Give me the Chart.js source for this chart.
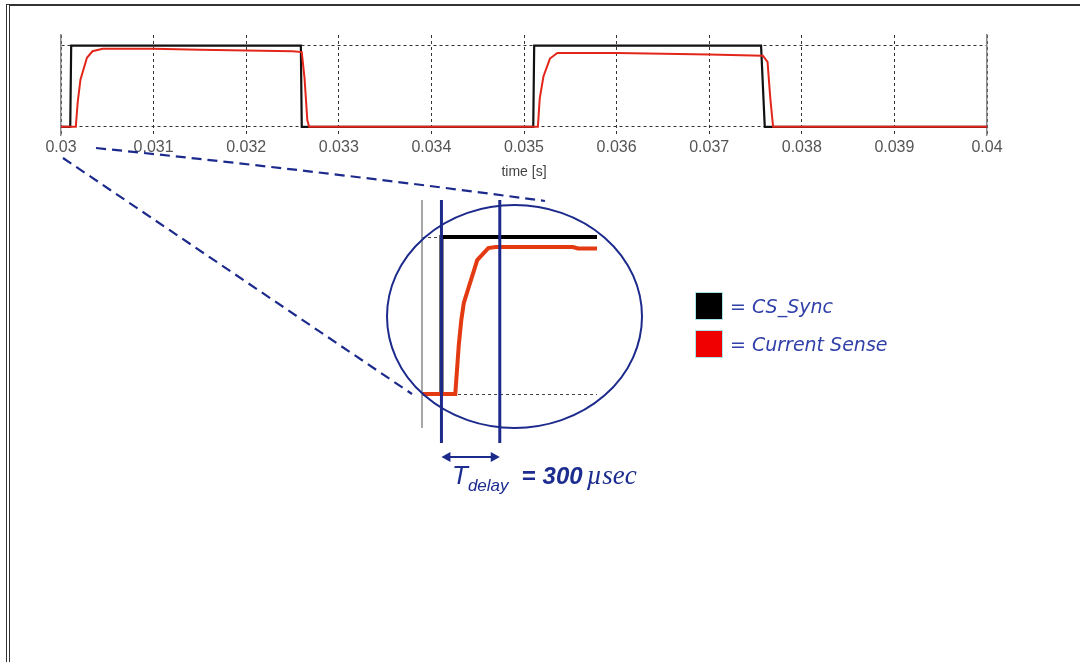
<!DOCTYPE html>
<html>
<head>
<meta charset="utf-8">
<script src="https://cdn.jsdelivr.net/npm/chart.js@4.4.0/dist/chart.umd.min.js"></script>
<style>
html, body { margin: 0; padding: 0; background: #fff; overflow: hidden; }
#wrap { position: relative; width: 1080px; height: 662px; overflow: hidden; }
#frame { position: absolute; left: 6px; top: 4px; width: 1100px; height: 700px; border-left: 4px double #333; border-top: 2px solid #333; }
canvas { position: absolute; left: 0; top: 0; }
.sq { position: absolute; left: 695px; width: 26px; height: 26px; border: 1px solid #a8e4ea; }
.legtxt { position: absolute; left: 730px; font: italic 19px "DejaVu Sans", sans-serif; line-height: 22px; color: #3040a8; white-space: nowrap; }
#tdelay { position: absolute; left: 452px; top: 460px; color: #1c2d8f; white-space: nowrap; font-family: "Liberation Sans", Arial, sans-serif; font-style: italic; line-height: 30px; }
#tdelay .t { font-size: 26px; }
#tdelay .sub { font-size: 17px; vertical-align: -7px; }
#tdelay .eq { font-size: 24px; font-weight: bold; margin-left: 13px; }
#tdelay .num { font-size: 24px; font-weight: bold; margin-left: 7px; }
#tdelay .unit { font-family: "Liberation Serif", serif; font-size: 27px; margin-left: 4px; }
</style>
</head>
<body>
<div id="wrap">
  <div id="frame"></div>
  <canvas id="main" width="1080" height="662"></canvas>
  <canvas id="zoom" width="1080" height="662"></canvas>
  <div class="sq" style="top:292px;background:#000"></div>
  <div class="sq" style="top:330px;background:#f00000"></div>
  <div class="legtxt" style="top:295px">= CS_Sync</div>
  <div class="legtxt" style="top:333px">= Current Sense</div>
  <div id="tdelay"><span class="t">T</span><span class="sub">delay</span><span class="eq">=</span><span class="num">300</span><span class="unit">µsec</span></div>
</div>
<script>
// time axis [s]
var timeTicks = [0.030, 0.031, 0.032, 0.033, 0.034, 0.035, 0.036, 0.037, 0.038, 0.039, 0.040];
var timeTickLabels = ["0.03", "0.031", "0.032", "0.033", "0.034", "0.035", "0.036", "0.037", "0.038", "0.039", "0.04"];
var levelTicks = [0, 1];

// CS_Sync (black)
var syncTime  = [0.0300, 0.03010, 0.03011, 0.03259, 0.03260, 0.03510, 0.03511, 0.03756, 0.03760, 0.0400];
var syncValue = [0, 0, 1, 1, 0, 0, 1, 1, 0, 0];

// Current Sense (red)
var senseTime  = [0.0300, 0.03016, 0.03018, 0.03021, 0.03028, 0.03034, 0.03045, 0.0310, 0.0315, 0.0320, 0.0325, 0.03260,
                  0.03263, 0.03266, 0.03268, 0.03515, 0.03517, 0.03521, 0.03528, 0.03536, 0.0360, 0.0365, 0.0370, 0.03758,
                  0.03763, 0.03766, 0.03769, 0.0400];
var senseValue = [0, 0, 0.3, 0.58, 0.85, 0.93, 0.96, 0.96, 0.95, 0.94, 0.93, 0.92,
                  0.6, 0.08, 0, 0, 0.35, 0.62, 0.84, 0.91, 0.91, 0.9, 0.89, 0.875,
                  0.8, 0.35, 0, 0];

// zoomed view of the first rising edge
var zoomStart = 0.0300;
var zoomEnd = 0.0309;
var zoomSyncTime  = [0.0300, 0.0301, 0.0301, 0.0309];
var zoomSyncValue = [0, 0, 1, 1];
var zoomSenseTime  = [0.030000, 0.030171, 0.030181, 0.030189, 0.030202, 0.030215, 0.030284, 0.030341, 0.030378, 0.030776, 0.030802, 0.030905];
var zoomSenseValue = [0, 0, 0.17, 0.31, 0.47, 0.58, 0.853, 0.93, 0.936, 0.936, 0.927, 0.927];
var delayMarks = [0.0301, 0.0304];

var navy = '#1c2a8c';

function toXY(t, v) {
    return t.map(function (x, i) { return {x: x, y: v[i]}; });
}

Chart.defaults.font.family = '"Liberation Sans Narrow", "Liberation Sans", sans-serif';

var mainChart = new Chart(document.getElementById('main'), {
    type: 'line',
    data: {
        datasets: [
            {label: 'Current Sense', data: toXY(senseTime, senseValue), borderColor: '#e3261b', borderWidth: 2, pointRadius: 0},
            {label: 'CS_Sync', data: toXY(syncTime, syncValue), borderColor: '#111', borderWidth: 2.2, pointRadius: 0}
        ]
    },
    options: {
        responsive: false,
        animation: false,
        layout: {padding: {left: 61, right: 93, top: 35, bottom: 481}},
        plugins: {legend: {display: false}, tooltip: {enabled: false}},
        scales: {
            x: {
                type: 'linear', min: 0.03, max: 0.04,
                afterBuildTicks: function (s) { s.ticks = timeTicks.map(function (v) { return {value: v}; }); },
                ticks: {
                    callback: function (v, i) { return timeTickLabels[i]; },
                    color: '#555', font: {size: 16}, padding: 3, maxRotation: 0, autoSkip: false
                },
                grid: {color: '#333', lineWidth: 1, drawTicks: false},
                border: {display: false, dash: [3, 3]},
                title: {display: true, text: 'time [s]', color: '#444', font: {size: 14}, padding: {top: 4, bottom: 0}}
            },
            y: {
                min: -0.1, max: 1.13,
                afterBuildTicks: function (s) { s.ticks = levelTicks.map(function (v) { return {value: v}; }); },
                ticks: {display: false},
                grid: {color: '#333', lineWidth: 1, drawTicks: false},
                border: {display: true, color: '#8a8a8a', width: 1.5, dash: [3, 3]}
            },
            yRight: {
                position: 'right', min: -0.1, max: 1.13,
                ticks: {display: false},
                grid: {display: false, drawTicks: false},
                border: {display: true, color: '#8a8a8a', width: 1.5}
            }
        }
    }
});

var insetDecor = {
    id: 'insetDecor',
    afterDraw: function (chart) {
        var ctx = chart.ctx, a = chart.chartArea, x = chart.scales.x;
        ctx.save();
        // zoom window edge
        var x0 = x.getPixelForValue(zoomStart);
        ctx.strokeStyle = '#8a8a8a';
        ctx.lineWidth = 1.5;
        ctx.beginPath(); ctx.moveTo(x0, a.top); ctx.lineTo(x0, a.bottom - 15); ctx.stroke();
        // delay markers
        ctx.strokeStyle = navy;
        ctx.lineWidth = 3;
        delayMarks.forEach(function (t) {
            var px = x.getPixelForValue(t);
            ctx.beginPath(); ctx.moveTo(px, a.top); ctx.lineTo(px, a.bottom); ctx.stroke();
        });
        // magnifier circle
        ctx.lineWidth = 2;
        ctx.beginPath();
        ctx.ellipse(514.5, 316.5, 127.5, 111.5, 0, 0, Math.PI * 2);
        ctx.stroke();
        // double arrow
        var x1 = x.getPixelForValue(delayMarks[0]), x2 = x.getPixelForValue(delayMarks[1]), ay = a.bottom + 14;
        ctx.lineWidth = 2;
        ctx.beginPath(); ctx.moveTo(x1 + 2, ay); ctx.lineTo(x2 - 2, ay); ctx.stroke();
        ctx.fillStyle = navy;
        ctx.beginPath(); ctx.moveTo(x1, ay); ctx.lineTo(x1 + 9, ay - 5); ctx.lineTo(x1 + 9, ay + 5); ctx.closePath(); ctx.fill();
        ctx.beginPath(); ctx.moveTo(x2, ay); ctx.lineTo(x2 - 9, ay - 5); ctx.lineTo(x2 - 9, ay + 5); ctx.closePath(); ctx.fill();
        // leader lines from the main plot
        ctx.setLineDash([10, 6]);
        ctx.lineWidth = 2.2;
        ctx.beginPath(); ctx.moveTo(96, 148); ctx.quadraticCurveTo(330, 172, 545, 201); ctx.stroke();
        ctx.beginPath(); ctx.moveTo(63, 158); ctx.lineTo(412, 394); ctx.stroke();
        ctx.restore();
    }
};

var zoomChart = new Chart(document.getElementById('zoom'), {
    type: 'line',
    data: {
        datasets: [
            {label: 'Current Sense', data: toXY(zoomSenseTime, zoomSenseValue), borderColor: '#e33a12', borderWidth: 4, pointRadius: 0},
            {label: 'CS_Sync', data: toXY(zoomSyncTime, zoomSyncValue), borderColor: '#000', borderWidth: 4, pointRadius: 0}
        ]
    },
    options: {
        responsive: false,
        animation: false,
        layout: {padding: {left: 422, right: 483, top: 200, bottom: 219}},
        plugins: {legend: {display: false}, tooltip: {enabled: false}},
        scales: {
            x: {type: 'linear', min: zoomStart, max: zoomEnd, display: false},
            y: {
                min: -0.312, max: 1.236,
                afterBuildTicks: function (s) { s.ticks = levelTicks.map(function (v) { return {value: v}; }); },
                ticks: {display: false},
                grid: {color: '#444', lineWidth: 1, drawTicks: false},
                border: {display: false, dash: [3, 3]}
            }
        }
    },
    plugins: [insetDecor]
});
</script>
</body>
</html>
